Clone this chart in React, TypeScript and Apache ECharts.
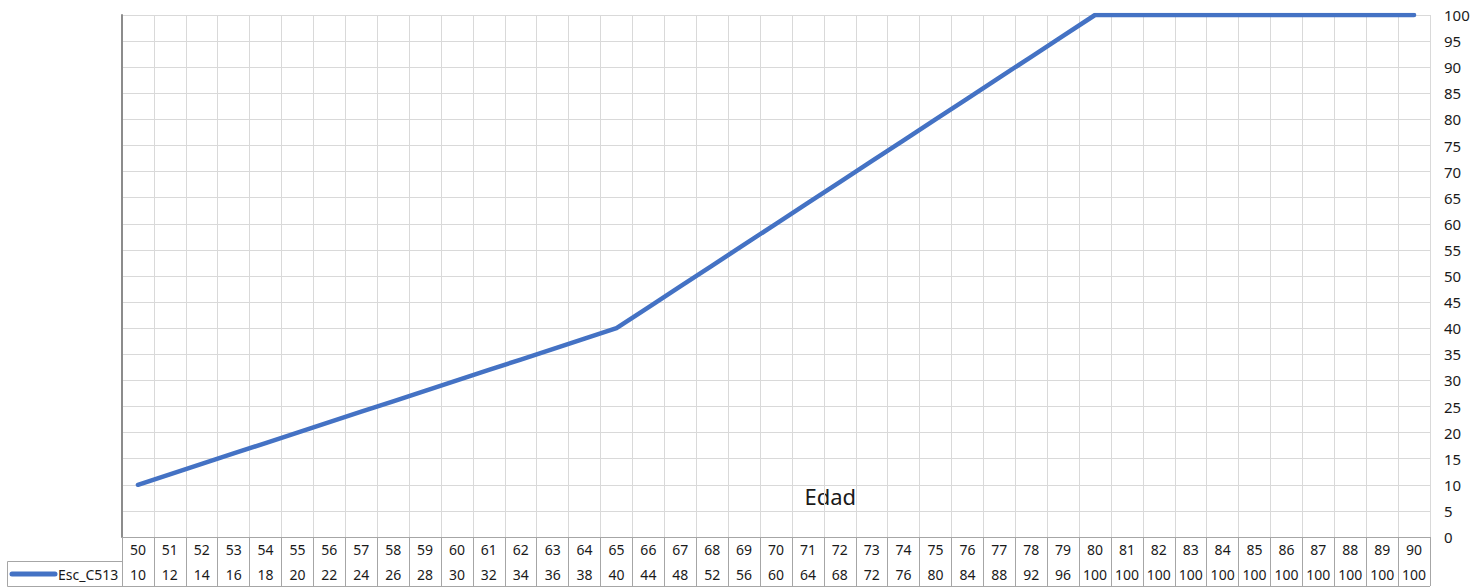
import React, { useEffect, useRef } from "react";
import * as echarts from "echarts";

const categories: string[] = [
  "50","51","52","53","54","55","56","57","58","59","60","61","62","63","64","65","66","67","68","69","70",
  "71","72","73","74","75","76","77","78","79","80","81","82","83","84","85","86","87","88","89","90",
];
const seriesName = "Esc_C513";
const values: number[] = [
  10,12,14,16,18,20,22,24,26,28,30,32,34,36,38,40,44,48,52,56,60,
  64,68,72,76,80,84,88,92,96,100,100,100,100,100,100,100,100,100,100,100,
];
const axisTitle = "Edad";

const FONT = "'Noto Sans', sans-serif";
const TXT = "#1a1a1a";
const GRID = "#d9d9d9";
const BORDER = "#a6a6a6";

export default function App() {
  const ref = useRef<HTMLDivElement>(null);
  useEffect(() => {
    document.body.style.margin = "0";
    const chart = echarts.init(ref.current!, undefined, { renderer: "svg" });
    const left = 122, right = 48, top = 15, bottom = 51;
    const W = 1478;
    const plotW = W - left - right;
    chart.setOption({
      animation: false,
      textStyle: { fontFamily: FONT },
      grid: { left, right, top, bottom, containLabel: false },
      xAxis: [
        {
          type: "category",
          data: categories,
          boundaryGap: true,
          position: "bottom",
          axisLine: { show: true, lineStyle: { color: BORDER, width: 1 } },
          axisTick: { show: true, interval: 0, length: 49, lineStyle: { color: BORDER } },
          axisLabel: { interval: 0, margin: 5, fontSize: 14, color: TXT, fontFamily: FONT },
          splitLine: { show: true, interval: 0, lineStyle: { color: GRID, width: 1 } },
        },
        {
          type: "category",
          data: categories,
          boundaryGap: true,
          position: "bottom",
          offset: 24,
          axisLine: { show: true, lineStyle: { color: BORDER, width: 1 } },
          axisTick: { show: false },
          axisLabel: {
            interval: 0, margin: 6, fontSize: 14, color: TXT, fontFamily: FONT,
            formatter: (_v: string, i: number) => String(values[i]),
          },
          splitLine: { show: false },
        },
      ],
      yAxis: [
        {
          type: "value",
          position: "right",
          min: 0,
          max: 100,
          interval: 5,
          axisLine: { show: false },
          axisTick: { show: false },
          axisLabel: { fontSize: 15, color: TXT, margin: 14, fontFamily: FONT },
          splitLine: { show: true, lineStyle: { color: GRID, width: 1 } },
        },
        {
          type: "value",
          position: "left",
          min: 0,
          max: 100,
          interval: 5,
          axisLine: { show: true, lineStyle: { color: "#8c8c8c", width: 2 } },
          axisTick: { show: false },
          axisLabel: { show: false },
          splitLine: { show: false },
        },
      ],
      series: [
        {
          name: seriesName,
          type: "line",
          xAxisIndex: 0,
          yAxisIndex: 0,
          data: values,
          symbol: "none",
          lineStyle: { color: "#4472C4", width: 4.5, cap: "round", join: "round" },
          itemStyle: { color: "#4472C4" },
        },
      ],
      graphic: [
        {
          type: "polyline",
          shape: { points: [[left, 561.5], [7.5, 561.5], [7.5, 586.5], [left + plotW, 586.5]] },
          style: { stroke: BORDER, fill: "none", lineWidth: 1 },
          silent: true,
        },
        {
          type: "line",
          shape: { x1: 12, y1: 574, x2: 55, y2: 574 },
          style: { stroke: "#4472C4", lineWidth: 5, lineCap: "round" },
          silent: true,
        },
        {
          type: "text",
          x: 58,
          y: 574,
          style: { text: seriesName, fontSize: 14, fill: TXT, fontFamily: FONT, verticalAlign: "middle", align: "left" },
          silent: true,
        },
        {
          type: "text",
          x: left + plotW * (22.2 / 41),
          y: 496,
          style: { text: axisTitle, fontSize: 22, fill: TXT, fontFamily: FONT, verticalAlign: "middle", align: "center" },
          silent: true,
        },
      ],
    });
    return () => chart.dispose();
  }, []);
  return <div ref={ref} style={{ width: 1478, height: 588 }} />;
}
